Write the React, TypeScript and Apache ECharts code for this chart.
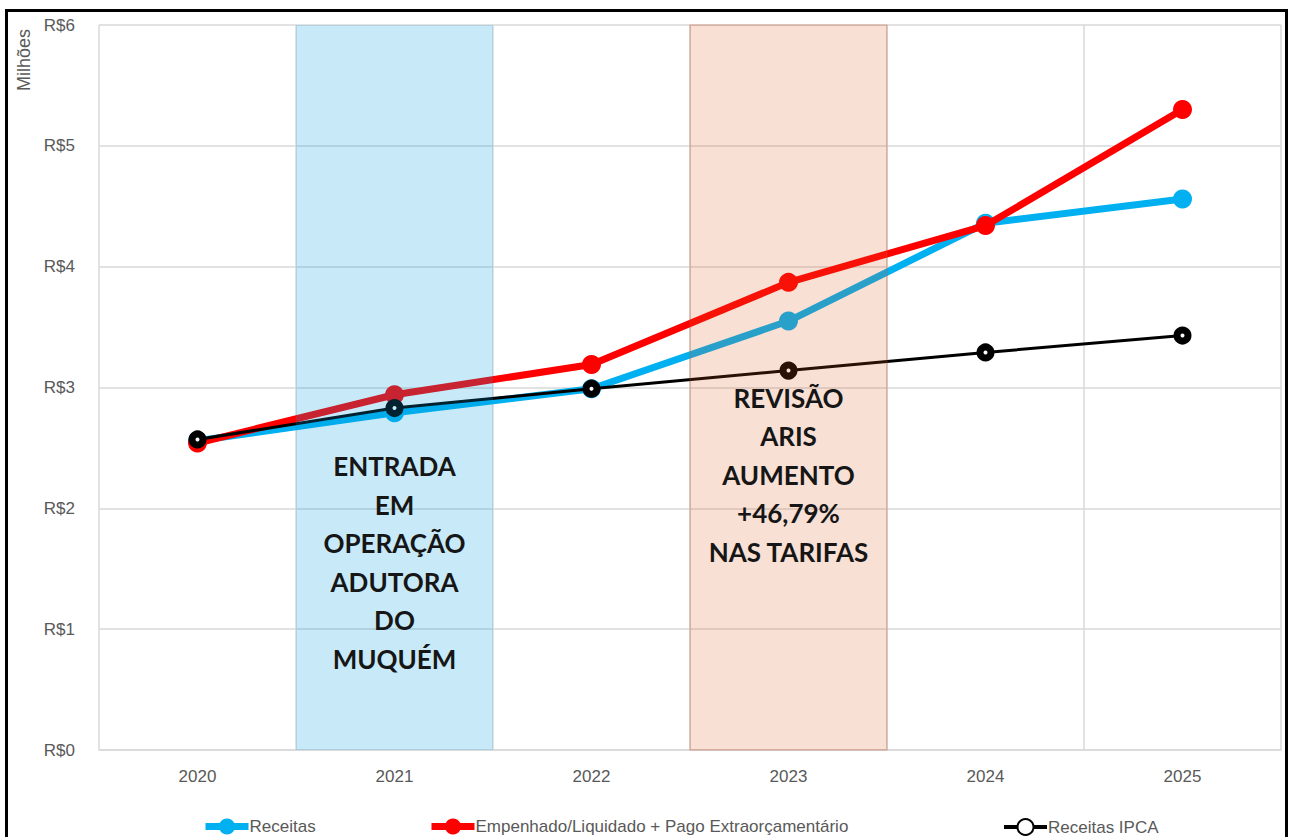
import React, { useEffect, useRef } from "react";
import * as echarts from "echarts";

const categories = ["2020", "2021", "2022", "2023", "2024", "2025"];
const receitas = [2.56, 2.79, 2.99, 3.55, 4.36, 4.56];
const empenhado = [2.54, 2.94, 3.19, 3.87, 4.34, 5.3];
const receitasIPCA = [2.57, 2.83, 2.99, 3.14, 3.29, 3.43];
const yTicks = [0, 1, 2, 3, 4, 5, 6];
const seriesNames = ["Receitas", "Empenhado/Liquidado + Pago Extraorçamentário", "Receitas IPCA"];
const bandCategories = ["2021", "2023"];
const bandTexts = [
  "ENTRADA\nEM\nOPERAÇÃO\nADUTORA\nDO\nMUQUÉM",
  "REVISÃO\nARIS\nAUMENTO\n+46,79%\nNAS TARIFAS",
];
const bandTextCenters = [1.55, 2.28];

export default function App() {
  const ref = useRef<HTMLDivElement>(null);
  useEffect(() => {
    if (!ref.current) return;
    const chart = echarts.init(ref.current, undefined, { renderer: "svg" });
    const bandFill = ["rgba(5,159,223,0.22)", "rgba(220,90,30,0.19)"];
    const bandStroke = ["rgba(0,0,0,0)", "rgba(190,80,40,0.25)"];
    const gray = "#595959";
    const grid = "#d9d9d9";
    const legendCommon = {
      top: 813,
      itemWidth: 43,
      itemHeight: 20,
      textStyle: {
        color: gray,
        fontSize: 17,
        fontFamily: "Liberation Sans",
        padding: [0, 0, 0, -4],
      },
    };
    chart.setOption({
      animation: false,
      backgroundColor: "#ffffff",
      grid: { left: 99, right: 9, top: 25, bottom: 87 },
      legend: [
        { ...legendCommon, left: 197, data: [seriesNames[0]], lineStyle: { width: 7 } },
        { ...legendCommon, left: 423, data: [seriesNames[1]], lineStyle: { width: 7 } },
        { ...legendCommon, left: 997, data: [seriesNames[2]], lineStyle: { width: 4 } },
      ],
      xAxis: {
        type: "category",
        data: categories,
        boundaryGap: true,
        axisLine: { show: true, lineStyle: { color: grid, width: 1.5 } },
        axisTick: { show: false },
        splitLine: { show: true, lineStyle: { color: grid, width: 1.5 } },
        axisLabel: { color: gray, fontSize: 17, margin: 18, fontFamily: "Liberation Sans" },
      },
      yAxis: {
        type: "value",
        min: yTicks[0],
        max: yTicks[yTicks.length - 1],
        interval: 1,
        axisLine: { show: false },
        axisTick: { show: false },
        splitLine: { lineStyle: { color: grid, width: 1.5 } },
        axisLabel: {
          color: gray,
          fontSize: 17,
          margin: 24,
          fontFamily: "Liberation Sans",
          formatter: (v: number) => "R$" + v,
        },
      },
      graphic: [
        {
          type: "text",
          x: 24,
          y: 60,
          rotation: Math.PI / 2,
          style: {
            text: "Milhões",
            fill: gray,
            fontSize: 18,
            fontFamily: "Liberation Sans",
            align: "center",
            verticalAlign: "middle",
          },
        },
        {
          type: "rect",
          shape: { x: 6.5, y: 10.5, width: 1280, height: 900 },
          style: { fill: "none", stroke: "#000", lineWidth: 3 },
          z: 100,
        },
      ],
      series: [
        {
          name: seriesNames[0],
          type: "line",
          data: receitas,
          color: "#00b0f0",
          lineStyle: { width: 7, color: "#00b0f0" },
          symbol: "circle",
          symbolSize: 19,
          itemStyle: { color: "#00b0f0" },
          z: 2,
        },
        {
          name: seriesNames[1],
          type: "line",
          data: empenhado,
          color: "#ff0000",
          lineStyle: { width: 7, color: "#ff0000" },
          symbol: "circle",
          symbolSize: 19,
          itemStyle: { color: "#ff0000" },
          z: 3,
        },
        {
          name: seriesNames[2],
          type: "line",
          data: receitasIPCA,
          color: "#000000",
          lineStyle: { width: 3, color: "#000000" },
          symbol: "circle",
          symbolSize: 11,
          itemStyle: { color: "#ffffff", borderColor: "#000000", borderWidth: 7 },
          z: 4,
        },
        {
          name: "bands",
          type: "custom",
          z: 10,
          silent: true,
          data: bandCategories.map((c, i) => [categories.indexOf(c), bandTextCenters[i]]),
          encode: { x: 0, y: 1 },
          renderItem: (params: any, api: any) => {
            const i = params.dataIndex;
            const idx = api.value(0);
            const center = api.coord([idx, api.value(1)]);
            const w = api.size([1, 0])[0];
            const cs = params.coordSys;
            return {
              type: "group",
              children: [
                {
                  type: "rect",
                  shape: { x: center[0] - w / 2, y: cs.y, width: w, height: cs.height },
                  style: { fill: bandFill[i], stroke: bandStroke[i], lineWidth: 1.5 },
                },
                {
                  type: "text",
                  style: {
                    text: bandTexts[i],
                    x: center[0],
                    y: center[1],
                    align: "center",
                    verticalAlign: "middle",
                    fontSize: 26,
                    fontWeight: "bold",
                    fontFamily: "Lato",
                    lineHeight: 38.5,
                    fill: "#161616",
                  },
                },
              ],
            };
          },
        },
      ],
    });
    return () => chart.dispose();
  }, []);
  return (
    <div
      ref={ref}
      style={{ position: "fixed", left: 0, top: 0, width: 1290, height: 837 }}
    />
  );
}
